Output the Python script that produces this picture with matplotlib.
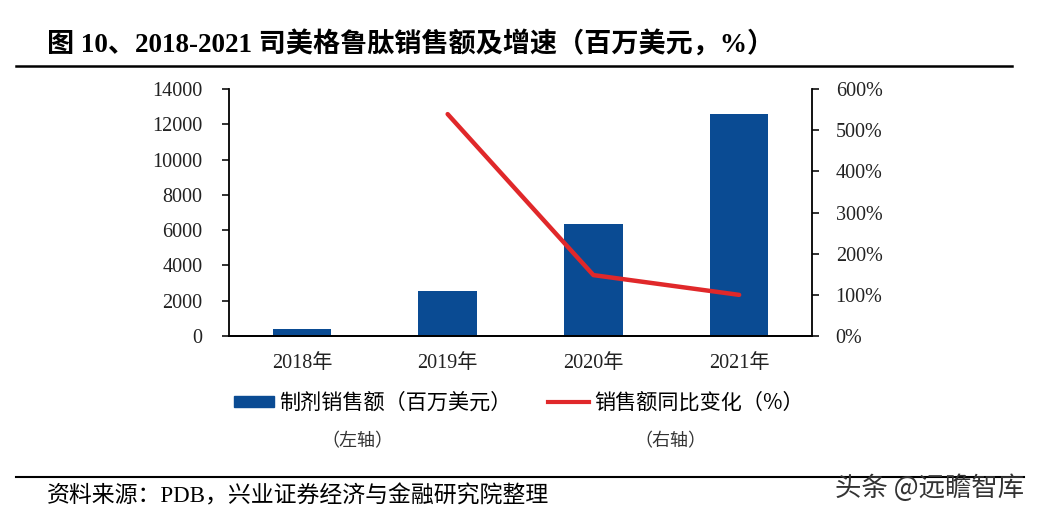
import numpy as np
import matplotlib.pyplot as plt
from matplotlib.lines import Line2D
from matplotlib.patches import Patch

plt.rcParams['font.family'] = ['Liberation Serif', 'Noto Sans CJK SC', 'DejaVu Sans']

# data
years = ['2018年', '2019年', '2020年', '2021年']
sales = [400, 2570, 6350, 12590]          # 百万美元, left axis
growth_years = ['2019年', '2020年', '2021年']
growth = [539, 148, 100]                   # %, right axis

left_ticks = [0, 2000, 4000, 6000, 8000, 10000, 12000, 14000]
right_ticks = [0, 100, 200, 300, 400, 500, 600]

bar_color = '#0a4b93'
line_color = '#e0282a'

fig = plt.figure(figsize=(10.4, 5.17), dpi=100)
ax = fig.add_axes([0.2202, 0.350, 0.5606, 0.4779])
ax2 = ax.twinx()

x = np.arange(len(years))
ax.bar(x, sales, width=0.4, color=bar_color, zorder=2)
gx = [years.index(y) for y in growth_years]
ax2.plot(gx, growth, color=line_color, lw=3.2, solid_capstyle='round')

ax.set_xlim(-0.5, 3.5)
ax.set_ylim(0, 14000)
ax2.set_ylim(0, 600)
ax.set_yticks(left_ticks)
ax.set_yticklabels([str(v) for v in left_ticks])
ax2.set_yticks(right_ticks)
ax2.set_yticklabels([f'{v}%' for v in right_ticks])
ax.set_xticks(x)
ax.set_xticklabels(years)

for a in (ax, ax2):
    a.spines['top'].set_visible(False)
    a.spines['left'].set_linewidth(1.3)
    a.spines['right'].set_linewidth(1.3)
    a.spines['bottom'].set_linewidth(1.3)
    a.tick_params(axis='y', labelsize=14.5, length=5, width=1.3, colors='#222222')
ax.spines['right'].set_visible(False)
ax2.spines['left'].set_visible(False)
ax.tick_params(axis='x', length=0, labelsize=14.5, pad=13, colors='#222222')
ax.tick_params(axis='y', pad=14)
ax2.tick_params(axis='y', pad=12)

# title and rules
fig.text(0.045, 0.912, '图 10、2018-2021 司美格鲁肽销售额及增速（百万美元，%）',
         fontsize=19.5, fontweight='bold', va='center', ha='left',
         family=['Liberation Serif', 'Noto Sans CJK SC'])
fig.add_artist(Line2D([0.015, 0.973], [0.872, 0.872], color='black', lw=1.8))
fig.add_artist(Line2D([0.015, 0.985], [0.077, 0.077], color='black', lw=1.5))

# legend
handles = [Patch(color=bar_color), Line2D([], [], color=line_color, lw=3)]
labels = ['制剂销售额（百万美元）', '销售额同比变化（%）']
fig.legend(handles, labels, loc='center', bbox_to_anchor=(0.4986, 0.221), ncol=2,
           frameon=False, handlelength=1.9, handleheight=0.4, handletextpad=0.25,
           columnspacing=1.75, prop={'family': ['Noto Sans CJK SC'], 'size': 15.2})
fig.text(0.344, 0.147, '（左轴）', fontsize=13, ha='center', va='center',
         family=['Noto Sans CJK SC'], color='#333333')
fig.text(0.645, 0.147, '（右轴）', fontsize=13, ha='center', va='center',
         family=['Noto Sans CJK SC'], color='#333333')

# footer
fig.text(0.045, 0.040, '资料来源：PDB，兴业证券经济与金融研究院整理', fontsize=16.5,
         ha='left', va='center', family=['Liberation Serif', 'Noto Sans CJK SC'])
fig.text(0.985, 0.056, '头条 @远瞻智库', fontsize=19, ha='right', va='center',
         family=['Noto Sans CJK SC'], color='#333333')

fig.savefig('out.png', dpi=100)
